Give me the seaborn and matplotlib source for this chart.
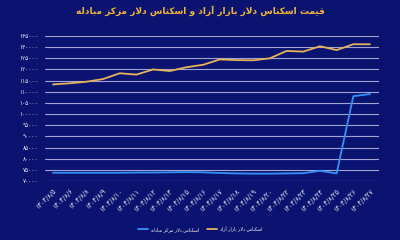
import matplotlib
matplotlib.use("Agg")
import matplotlib.pyplot as plt
import seaborn as sns
import pandas as pd

# ---------------- data ----------------
dates = ["۱۴۰۴/۸/۵", "۱۴۰۴/۸/۶", "۱۴۰۴/۸/۸", "۱۴۰۴/۸/۹", "۱۴۰۴/۸/۱۰",
         "۱۴۰۴/۸/۱۱", "۱۴۰۴/۸/۱۲", "۱۴۰۴/۸/۱۳", "۱۴۰۴/۸/۱۵", "۱۴۰۴/۸/۱۶",
         "۱۴۰۴/۸/۱۷", "۱۴۰۴/۸/۱۸", "۱۴۰۴/۸/۱۹", "۱۴۰۴/۸/۲۰", "۱۴۰۴/۸/۲۲",
         "۱۴۰۴/۸/۲۳", "۱۴۰۴/۸/۲۴", "۱۴۰۴/۸/۲۵", "۱۴۰۴/۸/۲۶", "۱۴۰۴/۸/۲۷"]
free_market = [113300, 113800, 114500, 115700, 118300, 117700, 120000, 119300,
               121000, 122100, 124500, 124200, 124100, 125000, 128300, 128000,
               130400, 128700, 131300, 131300]
exchange_center = [73700, 73700, 73700, 73700, 73700, 73800, 73800, 73900,
                   74000, 73900, 73600, 73400, 73300, 73300, 73400, 73500,
                   74600, 73400, 108000, 109000]
y_ticks = list(range(70000, 135001, 5000))
title_text = "قیمت اسکناس دلار بازار آزاد و اسکناس دلار مرکز مبادله"
name_free = "اسکناس دلار بازار آزاد"
name_center = "اسکناس دلار مرکز مبادله"

# ------------- minimal Persian shaping -------------
FORMS = {
    'ا': ('\uFE8D', '\uFE8E', None, None),
    'آ': ('\uFE81', '\uFE82', None, None),
    'ب': ('\uFE8F', '\uFE90', '\uFE91', '\uFE92'),
    'ت': ('\uFE95', '\uFE96', '\uFE97', '\uFE98'),
    'د': ('\uFEA9', '\uFEAA', None, None),
    'ر': ('\uFEAD', '\uFEAE', None, None),
    'ز': ('\uFEAF', '\uFEB0', None, None),
    'س': ('\uFEB1', '\uFEB2', '\uFEB3', '\uFEB4'),
    'ق': ('\uFED5', '\uFED6', '\uFED7', '\uFED8'),
    'ل': ('\uFEDD', '\uFEDE', '\uFEDF', '\uFEE0'),
    'م': ('\uFEE1', '\uFEE2', '\uFEE3', '\uFEE4'),
    'ن': ('\uFEE5', '\uFEE6', '\uFEE7', '\uFEE8'),
    'ه': ('\uFEE9', '\uFEEA', '\uFEEB', '\uFEEC'),
    'و': ('\uFEED', '\uFEEE', None, None),
    'ک': ('\uFB8E', '\uFB8F', '\uFB90', '\uFB91'),
    'ی': ('\uFBFC', '\uFBFD', '\uFBFE', '\uFBFF'),
}
LAM_ALEF = {'ا': ('\uFEFB', '\uFEFC'), 'آ': ('\uFEF5', '\uFEF6')}


def shape(text):
    chars = list(text)
    n = len(chars)
    res = []
    i = 0

    def joins_fwd(c):
        return c in FORMS and FORMS[c][2] is not None

    while i < n:
        c = chars[i]
        if c not in FORMS:
            res.append(c)
            i += 1
            continue
        prev = chars[i - 1] if i > 0 else ''
        conn_prev = joins_fwd(prev)
        if c == 'ل' and i + 1 < n and chars[i + 1] in LAM_ALEF:
            lig = LAM_ALEF[chars[i + 1]]
            res.append(lig[1] if conn_prev else lig[0])
            i += 2
            continue
        nxt = chars[i + 1] if i + 1 < n else ''
        conn_next = joins_fwd(c) and nxt in FORMS
        iso, fin, ini, med = FORMS[c]
        if conn_prev and conn_next:
            res.append(med)
        elif conn_prev:
            res.append(fin)
        elif conn_next:
            res.append(ini)
        else:
            res.append(iso)
        i += 1
    return ''.join(reversed(res))


FA_DIGITS = str.maketrans("0123456789", "۰۱۲۳۴۵۶۷۸۹")

# ---------------- style ----------------
BG = "#0a1470"
sns.set_style("dark", {"axes.facecolor": BG, "figure.facecolor": BG})
plt.rcParams['font.family'] = ['DejaVu Sans']

fig = plt.figure(figsize=(4, 2.4), dpi=100)
ax = fig.add_axes([0.1125, 0.2458, 0.835, 0.6042])
ax.set_facecolor(BG)

df = pd.DataFrame({
    "idx": list(range(len(dates))) * 2,
    "value": exchange_center + free_market,
    "series": [shape(name_center)] * len(dates) + [shape(name_free)] * len(dates),
})
palette = {shape(name_center): "#3392f7", shape(name_free): "#e6b35a"}
sns.lineplot(data=df, x="idx", y="value", hue="series", palette=palette,
             linewidth=1.3, ax=ax, legend=True)

ax.set_ylim(70000, 135000)
ax.set_xlim(-0.48, len(dates) - 1 + 0.54)
ax.set_yticks(y_ticks)
ax.set_yticklabels([str(v).translate(FA_DIGITS) for v in y_ticks],
                   color="#e6e6f0", fontsize=4.2)
ax.set_xticks(range(len(dates)))
ax.set_xticklabels(dates, rotation=45, ha="right", rotation_mode="anchor",
                   color="#e6e6f0", fontsize=4.8)
ax.tick_params(axis="y", length=0, pad=5)
ax.tick_params(axis="x", length=0, pad=5)
ax.grid(axis="y", color="#a2a2d2", linewidth=0.8)
ax.grid(axis="x", visible=False)
for s in ax.spines.values():
    s.set_visible(False)
ax.set_xlabel("")
ax.set_ylabel("")

leg = ax.legend(loc="center", bbox_to_anchor=(0.5, 0.045),
                bbox_transform=fig.transFigure, ncol=2, frameon=False,
                fontsize=3.3, handlelength=2.2, columnspacing=1.8,
                handletextpad=0.6)
for t in leg.get_texts():
    t.set_color("#f0f0f0")

fig.text(0.5, 1 - 11 / 240, shape(title_text), ha="center", va="center",
         color="#f2b43a", fontsize=6.5, fontweight="bold")

fig.savefig("out.png", dpi=100, facecolor=BG)
